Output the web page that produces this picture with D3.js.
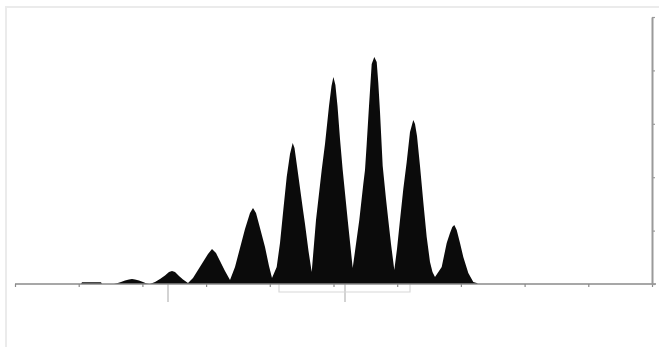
<!DOCTYPE html>
<html><head><meta charset="utf-8">
<script src="https://cdn.jsdelivr.net/npm/d3@7"></script>
<style>body{margin:0;background:#fff}svg{display:block}</style>
</head><body>
<svg id="c" width="659" height="347"></svg>
<script>
// channel positions (x) and intensities (y)
const xs = [63,66,67,86,87,
  99,102,106,110,114,117,120,124,128,131,133,134,
  135,140,145,150,154,157,160,164,168,173,
  178,183,188,193,197,201,205,210,215,
  220,225,230,235,238,241,245,250,254,257,
  261.7,265,268.3,271.7,275,277.7,279.5,282,285,288,290,293.5,296.7,
  301,306.7,310,314,316.5,318.4,320.4,322.5,325,327.7,332.7,337.7,
  344.3,348.3,350,351.7,354,356.7,359.3,361.7,363.3,365,367.7,371,373.3,376,379.3,
  382,385,388.3,391.7,395,398.3,400,402,405,408.3,411.7,415,417.5,420,
  426.7,431.7,435,437.3,439.3,441.7,445,448.3,453.3,458.3,461.7,463];
const ys = [0,0,1.8,1.8,0,
  0,0.8,2,3.5,4.6,5,4.6,3.5,2,0.8,0.3,0,
  0,2,5,8.5,12,13,12,8,4.5,1,
  6,14,22,30,35,31,23,13,4,
  17,36,55,71,76,71,56,37,18,6,
  17,41,74,107,130,141,136,118,96,74,60,33,12,
  64,114,140,178,198,207,199,178,145,114,64,16,
  64,100,114,140,178,220,227,222,201,172,118,85,64,40,14,
  35,64,95,122,152,164,160,148,118,82,47,22,12,7,
  17,41,51,57,59,54,41,27,11,2,1,0];
const xTicks = [0,63.7,127.4,191.1,254.8,318.5,382.2,445.9,509.6,573.3,637];
const yTicks = [0,53.4,106.8,160.2,213.6,267];
const markers = [153,330];
const bracket = [264,395];

const svg = d3.select("#c");
const x = d3.scaleLinear().domain([0,637]).range([15,652]);
const y = d3.scaleLinear().domain([0,267]).range([284,17]);

// outer light frame
svg.append("path").attr("d","M6,347V7H659").attr("fill","none")
  .attr("stroke","#ebebeb").attr("stroke-width",2);

const data = xs.map((v,i)=>[v,ys[i]]);
svg.append("path").datum(data)
  .attr("fill","#0b0b0b")
  .attr("d", d3.area().x(d=>x(d[0])).y0(y(0)).y1(d=>y(d[1])));

// marker lines and bracket below axis
const g2 = svg.append("g").attr("stroke","#c4c4c4").attr("stroke-width",1.5).attr("fill","none");
markers.forEach(m=>g2.append("line").attr("x1",x(m)).attr("x2",x(m)).attr("y1",y(0)).attr("y2",y(0)+18));
g2.append("path").attr("stroke","#d8d8d8").attr("stroke-width",1.2)
  .attr("d",`M${x(bracket[0])},${y(0)}V${y(0)+8}H${x(bracket[1])}V${y(0)}`);

// bottom axis
const xa = svg.append("g").attr("transform",`translate(0,${y(0)})`)
  .call(d3.axisBottom(x).tickValues(xTicks).tickSize(3).tickSizeOuter(0).tickFormat(""));
xa.select(".domain").remove();
xa.selectAll("line").attr("stroke","#8a8a8a").attr("stroke-width",1.2);
svg.append("line").attr("x1",x(0)).attr("x2",x(637)+4).attr("y1",y(0)).attr("y2",y(0))
  .attr("stroke","#8a8a8a").attr("stroke-width",1.5);

// right axis
const ya = svg.append("g").attr("transform",`translate(${x(637)},0)`)
  .call(d3.axisRight(y).tickValues(yTicks).tickSize(3).tickSizeOuter(0).tickFormat(""));
ya.select(".domain").attr("stroke","#9a9a9a").attr("stroke-width",2);
ya.selectAll("line").attr("stroke","#9a9a9a").attr("stroke-width",1.2);
</script>
</body></html>
